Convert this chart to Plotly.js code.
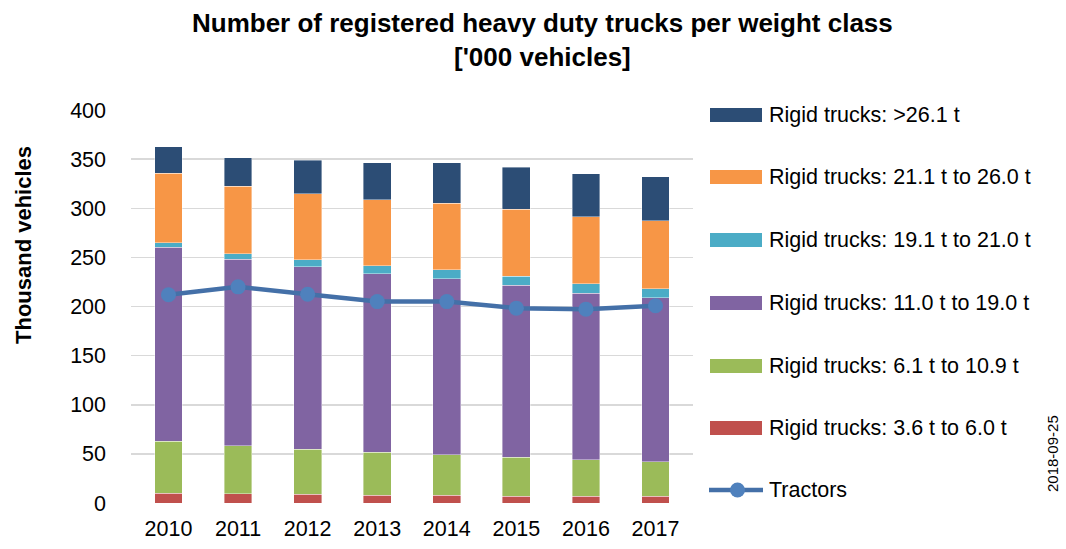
<!DOCTYPE html>
<html>
<head>
<meta charset="utf-8">
<script src="https://cdn.plot.ly/plotly-3.0.1.min.js"></script>
<style>html,body{margin:0;padding:0;background:#fff;}#chart{width:1066px;height:549px;}</style>
</head>
<body>
<div id="chart"></div>
<script>
const years = ['2010','2011','2012','2013','2014','2015','2016','2017'];
const rigid_3_6_to_6_0   = [9.8, 9.2, 8.8, 8.1, 7.8, 7.1, 6.8, 6.8];
const rigid_6_1_to_10_9  = [53.3, 49.1, 45.8, 43.4, 41.4, 39.7, 37.3, 35.2];
const rigid_11_0_to_19_0 = [197.2, 189.8, 186.1, 181.7, 179.3, 174.6, 169.5, 166.8];
const rigid_19_1_to_21_0 = [4.8, 5.5, 6.8, 8.5, 8.8, 9.4, 9.8, 9.5];
const rigid_21_1_to_26_0 = [70.5, 68.8, 67.4, 67.1, 67.8, 68.2, 67.8, 68.8];
const rigid_over_26_1    = [26.8, 29.1, 33.9, 37.3, 41.0, 42.7, 43.7, 45.1];
const tractors           = [212, 220, 212.5, 205, 205, 198.3, 197.3, 200.7];

const barNames = ['Rigid trucks: 3.6 t to 6.0 t','Rigid trucks: 6.1 t to 10.9 t','Rigid trucks: 11.0 t to 19.0 t',
  'Rigid trucks: 19.1 t to 21.0 t','Rigid trucks: 21.1 t to 26.0 t','Rigid trucks: >26.1 t'];
const barValues = [rigid_3_6_to_6_0, rigid_6_1_to_10_9, rigid_11_0_to_19_0, rigid_19_1_to_21_0, rigid_21_1_to_26_0, rigid_over_26_1];
const barColors = ['#c0504d','#9bbb59','#8064a2','#4bacc6','#f79646','#2c4d75'];
const lineName = 'Tractors';
const titleText = '<b>Number of registered heavy duty trucks per weight class<br>[\'000 vehicles]</b>';

const FONT = '"Liberation Sans", Arial, sans-serif';

const traces = barNames.map((n, i) => ({
  type: 'bar', name: n, x: years, y: barValues[i],
  marker: {color: barColors[i], line: {color: 'rgba(255,255,255,0.5)', width: 0.8}},
  showlegend: false, hoverinfo: 'name+y'
}));
traces.push({
  type: 'scatter', mode: 'lines+markers', name: lineName, x: years, y: tractors,
  line: {color: '#4470a8', width: 4.5},
  marker: {color: '#4f81bd', size: 15},
  showlegend: false
});

const L = 131, R = 693, T = 110, B = 503;
const px = v => (v - L) / (R - L);
const py = v => (B - v) / (B - T);

const shapes = [];
const annotations = [];
const legendYs = [115, 177, 240, 303, 366, 428];
for (let k = 0; k < barNames.length; k++) {
  const i = barNames.length - 1 - k;
  const cy = legendYs[k];
  shapes.push({type: 'rect', xref: 'paper', yref: 'paper', x0: px(710), x1: px(762), y0: py(cy - 7), y1: py(cy + 7),
    fillcolor: barColors[i], line: {width: 0}});
  annotations.push({xref: 'paper', yref: 'paper', x: px(767), y: py(cy), xanchor: 'left', yanchor: 'middle',
    text: barNames[i], showarrow: false, font: {family: FONT, size: 21.5, color: '#000'}});
}
const ly = 490;
shapes.push({type: 'line', xref: 'paper', yref: 'paper', x0: px(709), x1: px(763), y0: py(ly), y1: py(ly),
  line: {color: '#4470a8', width: 4.5}});
shapes.push({type: 'circle', xref: 'paper', yref: 'paper', x0: px(730), x1: px(745), y0: py(ly + 7.5), y1: py(ly - 7.5),
  fillcolor: '#4f81bd', line: {width: 0}});
annotations.push({xref: 'paper', yref: 'paper', x: px(767), y: py(ly), xanchor: 'left', yanchor: 'middle',
  text: lineName, showarrow: false, font: {family: FONT, size: 21.5, color: '#000'}});
annotations.push({xref: 'paper', yref: 'paper', x: px(23), y: py(245), xanchor: 'center', yanchor: 'middle',
  text: '<b>Thousand vehicles</b>', textangle: -90, showarrow: false, font: {family: FONT, size: 22, color: '#000'}});
annotations.push({xref: 'paper', yref: 'paper', x: px(1052), y: py(454), xanchor: 'center', yanchor: 'middle',
  text: '2018-09-25', textangle: -90, showarrow: false, font: {family: FONT, size: 15, color: '#000'}});
annotations.push({xref: 'paper', yref: 'paper', x: px(542), y: py(40), xanchor: 'center', yanchor: 'middle',
  text: titleText, showarrow: false, font: {family: FONT, size: 26, color: '#000'}});

const layout = {
  width: 1066, height: 549,
  margin: {l: L, r: 1066 - R, t: T, b: 549 - B, pad: 0},
  paper_bgcolor: '#fff', plot_bgcolor: '#fff',
  barmode: 'stack', bargap: 0.6,
  showlegend: false,
  font: {family: FONT, size: 21.5, color: '#000'},
  xaxis: {type: 'category', showgrid: false, zeroline: false, showline: false, ticks: '',
    tickfont: {family: FONT, size: 21.5, color: '#000'}, ticklabelstandoff: 10, fixedrange: true},
  yaxis: {range: [0, 400], dtick: 50, tick0: 0, showgrid: true, gridcolor: '#d9d9d9', gridwidth: 1.5,
    zeroline: false, showline: false, ticks: '', tickfont: {family: FONT, size: 21.5, color: '#000'},
    ticklabelstandoff: 24, fixedrange: true},
  shapes: shapes,
  annotations: annotations
};

Plotly.newPlot('chart', traces, layout, {displayModeBar: false, staticPlot: true});
</script>
</body>
</html>
